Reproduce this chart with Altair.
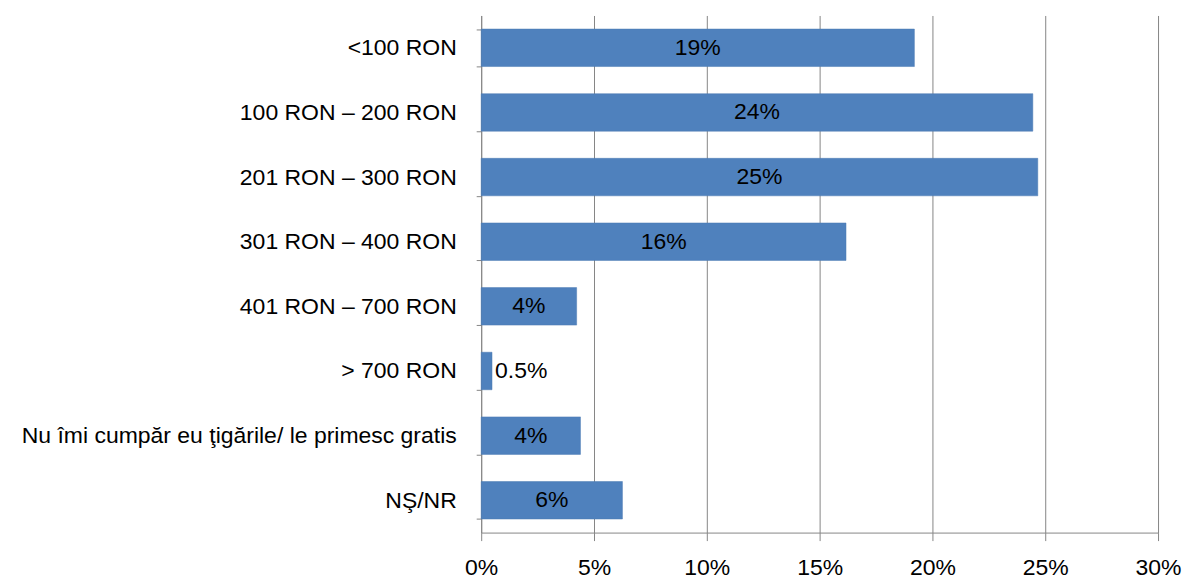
import altair as alt
import pandas as pd

categories = [
    "<100 RON",
    "100 RON – 200 RON",
    "201 RON – 300 RON",
    "301 RON – 400 RON",
    "401 RON – 700 RON",
    "> 700 RON",
    "Nu îmi cumpăr eu ţigările/ le primesc gratis",
    "NŞ/NR",
]
values = [19.2, 24.45, 24.67, 16.17, 4.23, 0.48, 4.4, 6.26]
labels = ["19%", "24%", "25%", "16%", "4%", "0.5%", "4%", "6%"]

df = pd.DataFrame({"cat": categories, "value": values, "label": labels})

font = "Liberation Sans"

y_enc = alt.Y(
    "cat:N",
    sort=categories,
    title=None,
    scale=alt.Scale(paddingInner=0.42, paddingOuter=0.21),
    axis=alt.Axis(
        labelFontSize=23,
        labelFont=font,
        labelColor="#000000",
        labelPadding=20,
        tickBand="extent",
        tickSize=5,
        tickColor="#868686",
        domainColor="#868686",
        labelLimit=600,
    ),
)

x_enc = alt.X(
    "value:Q",
    title=None,
    scale=alt.Scale(domain=[0, 30], nice=False),
    axis=alt.Axis(
        values=[0, 5, 10, 15, 20, 25, 30],
        labelExpr="datum.value + '%'",
        labelFontSize=23,
        labelFont=font,
        labelColor="#000000",
        labelPadding=16,
        tickSize=8,
        tickColor="#868686",
        domainColor="#868686",
        gridColor="#868686",
        gridWidth=1,
        labelFlush=False,
    ),
)

bars = alt.Chart(df).mark_bar(color="#4F81BD", stroke="#4A7AB3", strokeWidth=0.5).encode(
    x=x_enc, y=y_enc
)

inside = (
    alt.Chart(df)
    .transform_filter("datum.value >= 2")
    .transform_calculate(mid="datum.value / 2")
    .mark_text(fontSize=23, font=font, color="#000000", align="center", baseline="middle")
    .encode(x="mid:Q", y=alt.Y("cat:N", sort=categories), text="label:N")
)

outside = (
    alt.Chart(df)
    .transform_filter("datum.value < 2")
    .mark_text(fontSize=23, font=font, color="#000000", align="left", baseline="middle", dx=3)
    .encode(x="value:Q", y=alt.Y("cat:N", sort=categories), text="label:N")
)

chart = (
    alt.layer(bars, inside, outside)
    .properties(
        width=678,
        height=518,
        autosize=alt.AutoSizeParams(type="none"),
        padding={"left": 474, "top": 7, "right": 24, "bottom": 46},
    )
    .configure_view(stroke=None)
    .configure_axisY(grid=False)
)

chart.save("out.html", embed_options={"renderer": "svg", "actions": False})
